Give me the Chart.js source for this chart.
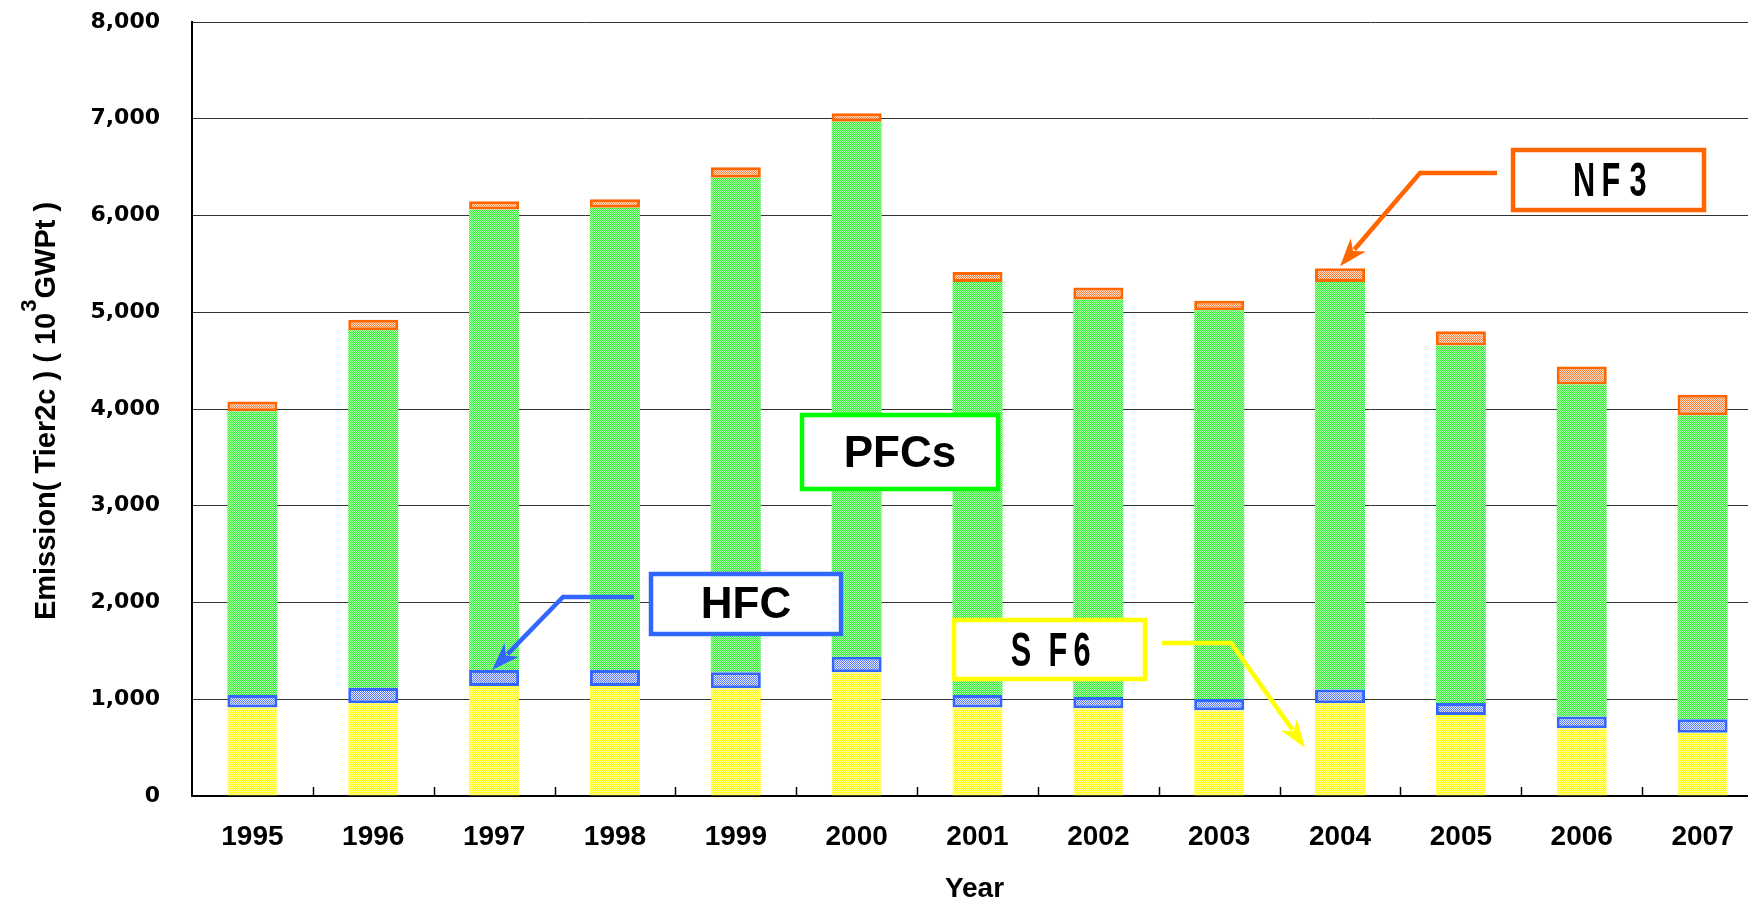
<!DOCTYPE html>
<html>
<head>
<meta charset="utf-8">
<script src="https://cdn.jsdelivr.net/npm/chart.js@4"></script>
<style>
  html, body { margin: 0; padding: 0; background: #fff; overflow: hidden; }
  #wrap { width: 1765px; height: 903px; }
</style>
</head>
<body>
<div id="wrap"><canvas id="emissionChart" width="1765" height="903"></canvas></div>
<script>
// data (10^3 GWPt)
var years = ['1995', '1996', '1997', '1998', '1999', '2000', '2001', '2002', '2003', '2004', '2005', '2006', '2007'];
var sf6 = [914, 959, 1138, 1138, 1114, 1280, 914, 907, 886, 959, 838, 700, 655];
var hfc = [131, 158, 165, 165, 165, 158, 131, 117, 117, 141, 124, 121, 138];
var pfcs = [2931, 3696, 4759, 4777, 5110, 5530, 4268, 4109, 4017, 4213, 3694, 3431, 3142];
var nf3 = [102, 109, 86, 89, 109, 88, 102, 122, 99, 143, 147, 187, 211];
var yMax = 8000;
var yStep = 1000;

// dotted fill like the original
var makePattern = function (c1, c2) {
  var p = document.createElement('canvas');
  p.width = 2; p.height = 2;
  var g = p.getContext('2d');
  g.fillStyle = c2; g.fillRect(0, 0, 2, 2);
  g.fillStyle = c1; g.fillRect(0, 0, 1, 1); g.fillRect(1, 1, 1, 1);
  return g.createPattern(p, 'repeat');
};

var drawArrow = function (ctx, pts, color) {
  var n = pts.length;
  var tip = pts[n - 1], prev = pts[n - 2];
  var ang = Math.atan2(tip[1] - prev[1], tip[0] - prev[0]);
  var len = 28, half = 10;
  var bx = tip[0] - Math.cos(ang) * len, by = tip[1] - Math.sin(ang) * len;
  ctx.save();
  ctx.strokeStyle = color;
  ctx.fillStyle = color;
  ctx.lineWidth = 4.5;
  ctx.lineJoin = 'miter';
  ctx.beginPath();
  ctx.moveTo(pts[0][0], pts[0][1]);
  for (var i = 1; i < n - 1; i++) ctx.lineTo(pts[i][0], pts[i][1]);
  ctx.lineTo(bx + Math.cos(ang) * 6, by + Math.sin(ang) * 6);
  ctx.stroke();
  ctx.beginPath();
  ctx.moveTo(tip[0], tip[1]);
  ctx.lineTo(bx + Math.sin(ang) * half, by - Math.cos(ang) * half);
  ctx.lineTo(bx + Math.cos(ang) * 8, by + Math.sin(ang) * 8);
  ctx.lineTo(bx - Math.sin(ang) * half, by + Math.cos(ang) * half);
  ctx.closePath();
  ctx.fill();
  ctx.restore();
};

var drawBox = function (ctx, x, y, w, h, color) {
  ctx.save();
  ctx.fillStyle = '#fff';
  ctx.fillRect(x, y, w, h);
  ctx.strokeStyle = color;
  ctx.lineWidth = 4.5;
  ctx.strokeRect(x, y, w, h);
  ctx.restore();
};

// spaced, narrow letters (NF3, SF6 labels)
var drawSpaced = function (ctx, chars, xs, y, size) {
  ctx.save();
  ctx.fillStyle = '#000';
  ctx.font = 'bold ' + size + 'px "Liberation Sans", Arial, sans-serif';
  ctx.textAlign = 'center';
  ctx.textBaseline = 'middle';
  for (var i = 0; i < chars.length; i++) {
    ctx.save();
    ctx.translate(xs[i], y);
    ctx.scale(0.64, 1);
    ctx.fillText(chars[i], 0, 0);
    ctx.restore();
  }
  ctx.restore();
};

var labelsPlugin = {
  id: 'labels',
  afterDatasetsDraw: function (chart) {
    var ctx = chart.ctx;
    var xs = chart.scales.x, ys = chart.scales.y;
    var top = function (i, upTo) {
      var s = sf6[i];
      if (upTo > 0) s += hfc[i];
      if (upTo > 1) s += pfcs[i];
      if (upTo > 2) s += nf3[i];
      return s;
    };

    // NF3
    drawArrow(ctx, [[1497, 173], [1420, 173], [xs.getPixelForValue(9), ys.getPixelForValue(top(9, 3)) - 2]], '#FF6600');
    drawBox(ctx, 1513, 150, 191, 60, '#FF6600');
    drawSpaced(ctx, ['N', 'F', '3'], [1584, 1611, 1638], 183, 48);

    // PFCs
    drawBox(ctx, 802, 415, 196, 74, '#00FF00');
    ctx.save();
    ctx.fillStyle = '#000';
    ctx.font = 'bold 44px "Liberation Sans", Arial, sans-serif';
    ctx.textAlign = 'center';
    ctx.textBaseline = 'middle';
    ctx.fillText('PFCs', 900, 455);
    ctx.restore();

    // HFC
    drawArrow(ctx, [[634, 597], [563, 597], [xs.getPixelForValue(2) - 2, ys.getPixelForValue(top(2, 1))]], '#3366FF');
    drawBox(ctx, 651, 574, 190, 60, '#3366FF');
    ctx.save();
    ctx.fillStyle = '#000';
    ctx.font = 'bold 44px "Liberation Sans", Arial, sans-serif';
    ctx.textAlign = 'center';
    ctx.textBaseline = 'middle';
    ctx.fillText('HFC', 746, 606);
    ctx.restore();

    // SF6
    drawArrow(ctx, [[1162, 643], [1231, 643], [xs.getPixelForValue(9) - 35, ys.getPixelForValue(500)]], '#FFFF00');
    drawBox(ctx, 954, 620, 191, 59, '#FFFF00');
    drawSpaced(ctx, ['S', 'F', '6'], [1021, 1058, 1082], 653, 48);
  },
  afterDraw: function (chart) {
    var ctx = chart.ctx, a = chart.chartArea;
    // short inner ticks between categories
    var w = (a.right - a.left) / years.length;
    ctx.save();
    ctx.strokeStyle = '#000';
    ctx.lineWidth = 1.5;
    for (var i = 1; i < years.length; i++) {
      var x = Math.round(a.left + i * w) + 0.5;
      ctx.beginPath();
      ctx.moveTo(x, a.bottom);
      ctx.lineTo(x, a.bottom - 9);
      ctx.stroke();
    }
    // axis titles
    ctx.fillStyle = '#000';
    ctx.textBaseline = 'middle';
    ctx.textAlign = 'center';
    ctx.font = 'bold 28px "Liberation Sans", Arial, sans-serif';
    ctx.fillText('Year', (a.left + a.right) / 2 - 3, 889);

    ctx.translate(47, (a.top + a.bottom) / 2 + 2);
    ctx.rotate(-Math.PI / 2);
    var main = 'bold 29px "Liberation Sans", Arial, sans-serif';
    var sup = 'bold 22px "Liberation Sans", Arial, sans-serif';
    var t1 = 'Emission( Tier2c ) ( 10', t2 = '3', t3 = 'GWPt )';
    ctx.font = main;
    var w1 = ctx.measureText(t1).width, w3 = ctx.measureText(t3).width;
    ctx.font = sup;
    var w2 = ctx.measureText(t2).width + 2;
    var x0 = -(w1 + w2 + w3) / 2;
    ctx.textAlign = 'left';
    ctx.font = main;
    ctx.fillText(t1, x0, 0);
    ctx.font = sup;
    ctx.fillText(t2, x0 + w1 + 1, -17);
    ctx.font = main;
    ctx.fillText(t3, x0 + w1 + w2, 0);
    ctx.restore();
  }
};

var emissionChart = new Chart(document.getElementById('emissionChart'), {
  type: 'bar',
  plugins: [labelsPlugin],
  data: {
    labels: years,
    datasets: [{
      label: 'SF6',
      data: sf6,
      backgroundColor: makePattern('#FFFF00', '#FFFFA8'),
      borderColor: '#FFFF33',
      borderWidth: 1
    }, {
      label: 'HFC',
      data: hfc,
      backgroundColor: makePattern('#5A78FF', '#E4E9FF'),
      borderColor: '#3366FF',
      borderWidth: 3
    }, {
      label: 'PFCs',
      data: pfcs,
      backgroundColor: makePattern('#2EF52E', '#B4FFB4'),
      borderColor: '#66FF66',
      borderWidth: 0
    }, {
      label: 'NF3',
      data: nf3,
      backgroundColor: makePattern('#FF7A33', '#FFE2D2'),
      borderColor: '#FF6600',
      borderWidth: 3
    }]
  },
  options: {
    responsive: false,
    animation: false,
    devicePixelRatio: 1,
    layout: {
      padding: { left: 0, top: 22, right: 2, bottom: 0 }
    },
    datasets: {
      bar: {
        barPercentage: 0.414,
        categoryPercentage: 1,
        borderSkipped: false
      }
    },
    plugins: {
      legend: { display: false },
      tooltip: { enabled: false }
    },
    scales: {
      x: {
        stacked: true,
        grid: { display: true, drawOnChartArea: false, drawTicks: false },
        border: { display: true, color: '#000', width: 2 },
        ticks: {
          color: '#000',
          padding: 24,
          maxRotation: 0,
          autoSkip: false,
          font: { family: '"Liberation Sans", Arial, sans-serif', size: 28, weight: 'bold' }
        },
        afterFit: function (s) { s.height = 107; s.paddingLeft = 0; s.paddingRight = 0; }
      },
      y: {
        stacked: true,
        min: 0,
        max: yMax,
        grid: { color: '#333', lineWidth: 1, drawTicks: false },
        border: { display: true, color: '#000', width: 2 },
        ticks: {
          stepSize: yStep,
          color: '#000',
          padding: 32,
          font: { family: '"DejaVu Sans", sans-serif', size: 22, weight: 'bold' }
        },
        afterFit: function (s) { s.width = 192; s.paddingTop = 0; s.paddingBottom = 0; }
      }
    }
  }
});
</script>
</body>
</html>
